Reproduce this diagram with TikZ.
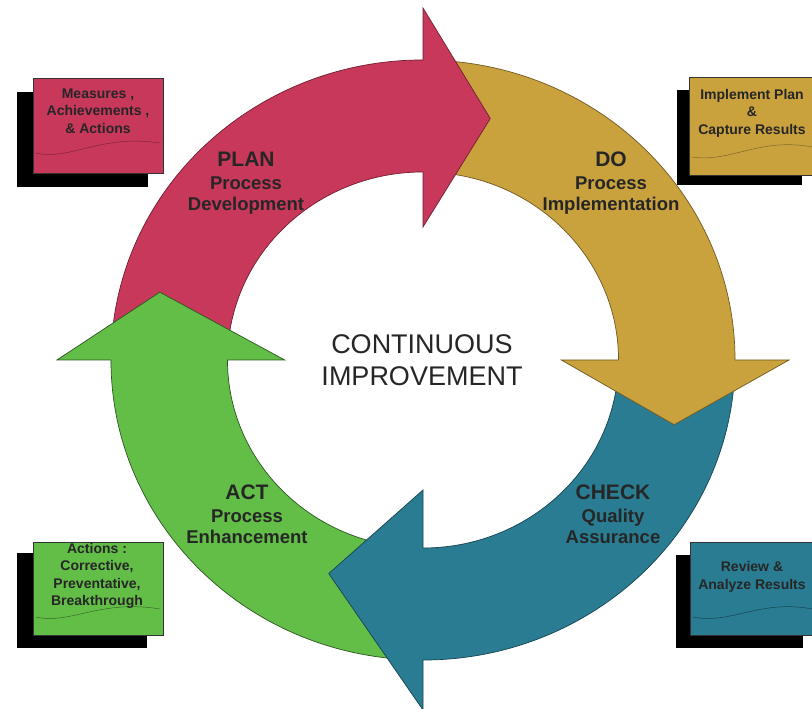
\documentclass[tikz,border=0pt]{standalone}
\usepackage{fontspec}
\setmainfont{Liberation Sans}
\definecolor{planred}{RGB}{200,56,90}
\definecolor{dogold}{RGB}{201,162,62}
\definecolor{checkteal}{RGB}{41,124,145}
\definecolor{actgreen}{RGB}{99,190,72}
\tikzset{
  ring/.style={line width=0.7pt},
  panel/.style={draw=black!80, line width=0.6pt},
  panelshadow/.style={fill=black},
  wave/.style={line width=0.5pt},
  stage/.style={anchor=north, inner sep=0pt, align=center, text=black!85,
    font=\bfseries\fontsize{18.5}{21}\selectfont},
  note/.style={inner sep=0pt, align=center, text=black!85,
    font=\bfseries\fontsize{14}{17.5}\selectfont},
}
\newcommand{\stagename}[1]{{\fontsize{21}{21}\selectfont #1}\\[1.5pt]}
\begin{document}
\begin{tikzpicture}[x=1pt, y=1pt]
    \clip (0,0) rectangle (812,709);
    \fill[white] (0,0) rectangle (812,709);

    % ring: bodies first, heads on top
    \begin{scope}[shift={(423,349)}, xscale=1.04]
    \fill[planred] (175:300) arc[start angle=175, end angle=85, radius=300] -- (85:188) arc[start angle=85, end angle=175, radius=188] -- cycle;
    \draw[ring, planred!55!black] (175:300) arc[start angle=175, end angle=85, radius=300] (85:188) arc[start angle=85, end angle=175, radius=188];

    \fill[dogold] (85:300) arc[start angle=85, end angle=-5, radius=300] -- (-5:188) arc[start angle=-5, end angle=85, radius=188] -- cycle;
    \draw[ring, dogold!55!black] (85:300) arc[start angle=85, end angle=-5, radius=300] (-5:188) arc[start angle=-5, end angle=85, radius=188];

    \fill[checkteal] (-5:300) arc[start angle=-5, end angle=-95, radius=300] -- (-95:188) arc[start angle=-95, end angle=-5, radius=188] -- cycle;
    \draw[ring, checkteal!55!black] (-5:300) arc[start angle=-5, end angle=-95, radius=300] (-95:188) arc[start angle=-95, end angle=-5, radius=188];

    \fill[actgreen] (-95:300) arc[start angle=-95, end angle=-185, radius=300] -- (-185:188) arc[start angle=-185, end angle=-95, radius=188] -- cycle;
    \draw[ring, actgreen!45!black] (-95:300) arc[start angle=-95, end angle=-185, radius=300] (-185:188) arc[start angle=-185, end angle=-95, radius=188];

    \fill[planred] (90:188) -- (90:133) -- (75:250) -- (90:352) -- (90:300) -- cycle;
    \draw[ring, planred!55!black] (90:188) -- (90:133) -- (75:250) -- (90:352) -- (90:300);

    \fill[dogold] (0:188) -- (0:133) -- (-15:250) -- (0:352) -- (0:300) -- cycle;
    \draw[ring, dogold!55!black] (0:188) -- (0:133) -- (-15:250) -- (0:352) -- (0:300);

    \fill[checkteal] (-90:188) -- (-90:130) -- (-113:232) -- (-90:350) -- (-90:300) -- cycle;
    \draw[ring, checkteal!55!black] (-90:188) -- (-90:130) -- (-113:232) -- (-90:350) -- (-90:300);

    \fill[actgreen] (180:188) -- (180:133) -- (165:262) -- (180:352) -- (180:300) -- cycle;
    \draw[ring, actgreen!45!black] (180:188) -- (180:133) -- (165:262) -- (180:352) -- (180:300);
    \end{scope}

    % stage labels
    \node (plan) at (246,557) [stage] {\stagename{PLAN}Process\\Development};
    \node (do) at (611,557) [stage] {\stagename{DO}Process\\Implementation};
    \node (check) at (613,224) [stage] {\stagename{CHECK}Quality\\Assurance};
    \node (act) at (247,224) [stage] {\stagename{ACT}Process\\Enhancement};

    \node (centre) at (422,375) [anchor=north, inner sep=0pt, align=center, text=black!85,
        font=\fontsize{27}{32}\selectfont] {CONTINUOUS\\IMPROVEMENT};

    % side panels
    \fill[panelshadow] (17,522) rectangle (148,617);
    \filldraw[panel, fill=planred] (33,536) rectangle (163,631);
    \draw[wave, planred!65!black] (36,556) .. controls (70,548) and (100,575) .. (160,566);
    \node (measures) at (98,598) [note] {Measures ,\\Achievements ,\\\& Actions};

    \fill[panelshadow] (677,524) rectangle (802,619);
    \filldraw[panel, fill=dogold] (689,534) rectangle (830,632);
    \draw[wave, dogold!65!black] (692,552) .. controls (730,546) and (760,572) .. (812,562);
    \node (implement) at (752,596) [note] {Implement Plan\\\&\\Capture Results};

    \fill[panelshadow] (17,61) rectangle (147,156);
    \filldraw[panel, fill=actgreen] (33,74) rectangle (163,167);
    \draw[wave, actgreen!55!black] (36,92) .. controls (70,84) and (100,110) .. (160,100);
    \node (actions) at (97,133) [note] {Actions :\\Corrective,\\Preventative,\\Breakthrough};

    \fill[panelshadow] (676,61) rectangle (803,154);
    \filldraw[panel, fill=checkteal] (690,74) rectangle (830,167);
    \draw[wave, checkteal!55!black] (693,92) .. controls (730,84) and (760,110) .. (812,100);
    \node (review) at (752,132) [note] {Review \&\\Analyze Results};
\end{tikzpicture}
\end{document}
